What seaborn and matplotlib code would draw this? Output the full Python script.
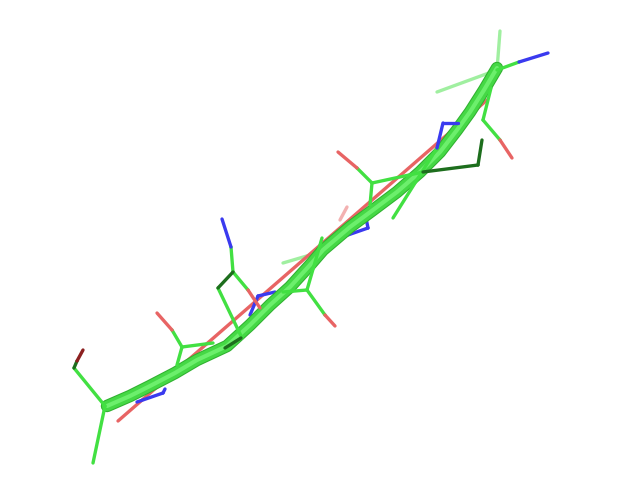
import pandas as pd
import seaborn as sns
import matplotlib.pyplot as plt

sns.set_style("white")

# tube (cartoon) path, picture coordinates
tube_x = [107, 130, 150, 175, 197, 227, 250, 270, 290, 310, 323, 350, 373, 397, 420, 440, 457, 470, 484, 497]
tube_y = [406, 396, 386, 373, 360, 346, 325, 305, 287, 265, 250, 227, 210, 192, 172, 152, 130, 112, 90, 68]

# stick bonds: start, end and element
seg_x0 = [105, 105, 74, 77, 182, 172, 182, 182, 222, 231, 233, 218, 233, 248, 225,
          307, 307, 307, 325, 338, 357, 372, 372, 423, 478, 393, 437, 443,
          483, 483, 500, 497, 519]
seg_y0 = [406, 406, 368, 361, 347, 330, 347, 347, 219, 247, 272, 288, 272, 290, 348,
          290, 290, 290, 315, 152, 168, 183, 183, 172, 165, 218, 148, 123,
          120, 120, 140, 70, 62]
seg_x1 = [93, 74, 77, 83, 172, 157, 213, 177, 231, 233, 218, 242, 248, 260, 241,
          283, 322, 325, 335, 357, 372, 370, 423, 478, 482, 437, 443, 458,
          491, 500, 512, 519, 548]
seg_y1 = [463, 368, 361, 350, 330, 313, 343, 365, 247, 272, 288, 338, 290, 308, 338,
          292, 238, 315, 326, 168, 183, 205, 172, 165, 140, 148, 123, 123,
          88, 140, 158, 62, 53]
seg_el = ["C", "C", "Cd", "Od", "C", "O", "C", "C", "N", "C", "Cd", "C", "C", "O", "Cd",
          "C", "C", "C", "O", "O", "C", "C", "C", "Cd", "Cd", "C", "N", "N",
          "C", "C", "O", "C", "N"]

# backbone bonds partly hidden by the tube
back_x0 = [118, 137, 163, 250, 258, 345, 368]
back_y0 = [421, 402, 393, 315, 296, 236, 228]
back_x1 = [487, 163, 165, 258, 275, 368, 366]
back_y1 = [100, 393, 389, 296, 292, 228, 218]
back_el = ["O", "N", "N", "N", "N", "N", "N"]

# faded bonds (further back)
fade_x0 = [283, 340, 497, 497]
fade_y0 = [263, 220, 70, 70]
fade_x1 = [327, 347, 500, 437]
fade_y1 = [250, 207, 31, 92]
fade_el = ["C", "O", "C", "C"]

pal = {"C": "#42e042", "Cd": "#1d6e1d", "N": "#3a3aef", "O": "#e86464", "Od": "#8c2020"}


def bonds(x0, y0, x1, y1, el):
    rows = []
    for i in range(len(x0)):
        rows.append({"seg": i, "x": x0[i], "y": y0[i], "el": el[i]})
        rows.append({"seg": i, "x": x1[i], "y": y1[i], "el": el[i]})
    return pd.DataFrame(rows)


fig = plt.figure(figsize=(6.4, 4.8), dpi=100)
ax = fig.add_axes([0, 0, 1, 1])

sns.lineplot(data=bonds(fade_x0, fade_y0, fade_x1, fade_y1, fade_el), x="x", y="y",
             units="seg", estimator=None, hue="el", palette=pal, sort=False,
             legend=False, lw=2.4, alpha=0.5, zorder=1, ax=ax)
sns.lineplot(data=bonds(back_x0, back_y0, back_x1, back_y1, back_el), x="x", y="y",
             units="seg", estimator=None, hue="el", palette=pal, sort=False,
             legend=False, lw=2.4, zorder=2, ax=ax)

# tube with simple shading
tube = pd.DataFrame({"x": tube_x, "y": tube_y})
for lw, col in [(9.0, "#30b030"), (7.5, "#45d845"), (3.0, "#6cef6c")]:
    sns.lineplot(data=tube, x="x", y="y", sort=False, color=col, lw=lw,
                 solid_capstyle="round", solid_joinstyle="round", zorder=3, ax=ax)

sns.lineplot(data=bonds(seg_x0, seg_y0, seg_x1, seg_y1, seg_el), x="x", y="y",
             units="seg", estimator=None, hue="el", palette=pal, sort=False,
             legend=False, lw=2.4, zorder=4, ax=ax)

ax.set_xlim(0, 640)
ax.set_ylim(480, 0)
ax.axis("off")
fig.savefig("out.png", dpi=100)
